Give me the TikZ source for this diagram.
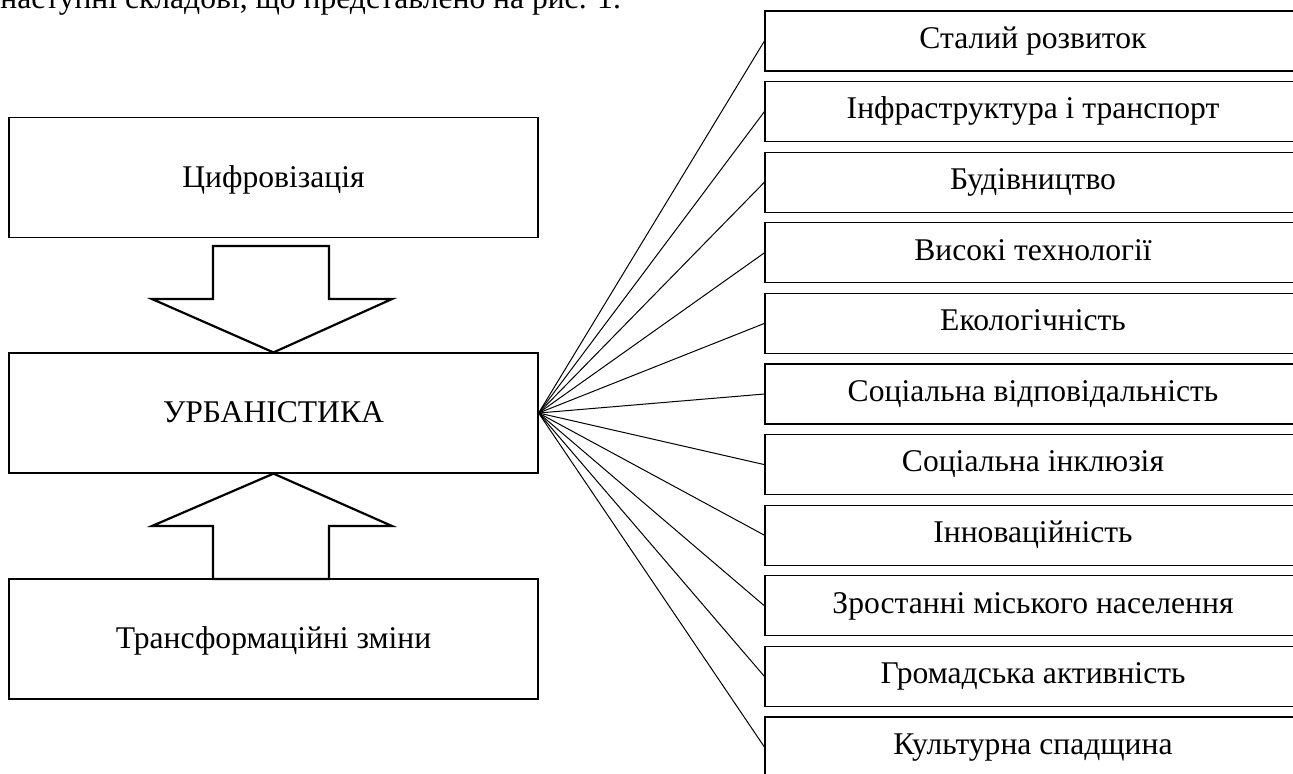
\documentclass[tikz,border=0pt]{standalone}
\usepackage{fontspec}
\setmainfont{Liberation Serif}

\begin{document}
\begin{tikzpicture}[x=0.5pt, y=-0.5pt,
		txt/.style={font=\fontsize{15.8}{19}\selectfont},
		lbox/.style={draw=black, line width=0.6pt, inner sep=0pt, minimum width=264.5pt, minimum height=60pt, text height=1.1em, text depth=0.12em, txt},
		rbox/.style={draw=black, line width=0.6pt, inner sep=0pt, minimum width=268pt, minimum height=30pt, text height=0.9em, text depth=0.18em, txt},
		bigarrow/.style={draw=black, line width=1.1pt, fill=white, line join=miter},
		fan/.style={draw=black, line width=0.5pt}]
		\useasboundingbox (0,0) rectangle (1293,773);
		\clip (0,0) rectangle (1293,773);
		\pgfmathsetmacro{\step}{70.6}

		% line of the text above the figure
		\node[txt, anchor=base west, inner sep=0pt] (intro) at (0,8) {наступні складові, що представлено на рис. 1.};

		\node[lbox] (dig) at (273.5,177.5) {Цифровізація};
		\node[lbox] (urb) at (273.5,413) {УРБАНІСТИКА};
		\node[lbox] (trans) at (273.5,639) {Трансформаційні зміни};

		\draw[bigarrow] (213,246) -- (329,246) -- (329,299) -- (392,299) -- (urb.north) -- (152,299) -- (213,299) -- cycle;
		\draw[bigarrow] (213,579) -- (329,579) -- (329,526) -- (392,526) -- (urb.south) -- (152,526) -- (213,526) -- cycle;

		\foreach \name [count=\i] in {Сталий розвиток, Інфраструктура і транспорт, Будівництво, Високі технології, Екологічність, Соціальна відповідальність, Соціальна інклюзія, Інноваційність, Зростанні міського населення, Громадська активність, Культурна спадщина}
		{
			\node[rbox] (f\i) at (1033,{41+\step*(\i-1)}) {\name};
			\draw[fan] (urb.east) -- (f\i.west);
		}
	\end{tikzpicture}
\end{document}
